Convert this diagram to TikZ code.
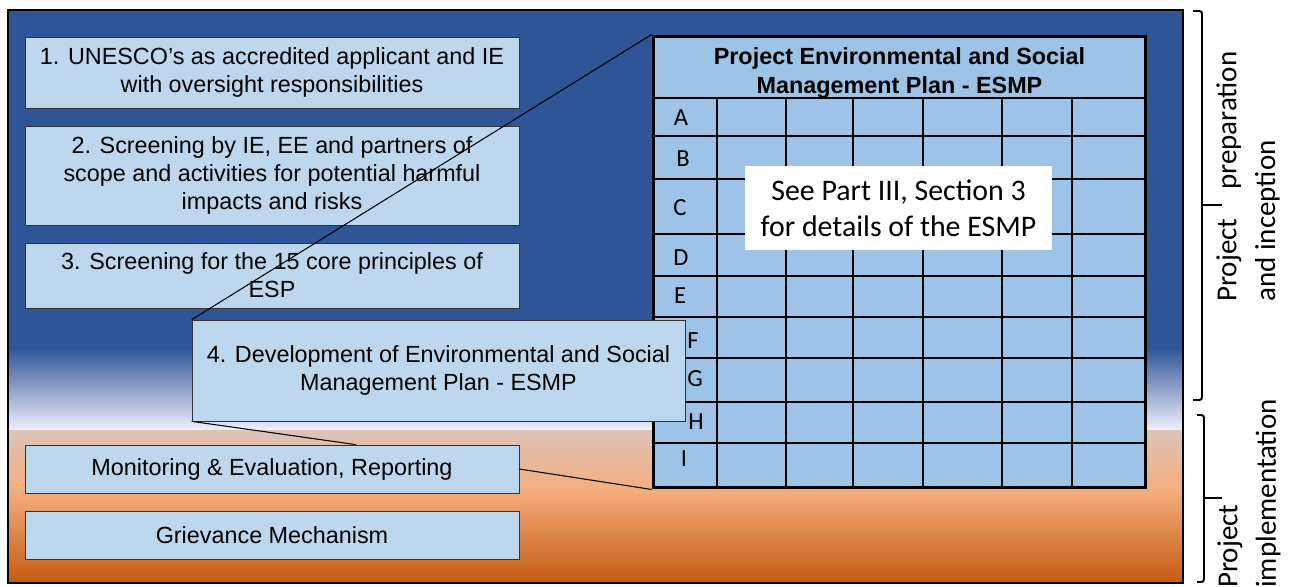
\documentclass[tikz,border=0pt]{standalone}
\usepackage{fontspec}
\setmainfont{Liberation Sans}
\newfontfamily\calibri{Carlito}
\usepackage{tikz}
\usetikzlibrary{calc}

\definecolor{bgblue}{RGB}{47,85,151}
\definecolor{bgpink}{RGB}{222,196,184}
\definecolor{bgpeach}{RGB}{244,174,126}
\definecolor{bgrust}{RGB}{197,90,17}
\definecolor{boxblue}{RGB}{189,215,238}
\definecolor{tableblue}{RGB}{157,195,230}

\begin{document}
\begin{tikzpicture}[
    x=0.02cm, y=-0.02cm,
    stage/.style={rectangle, draw=black!80, fill=boxblue, minimum width=9.88cm, align=center, inner sep=2pt, font=\fontsize{13.3}{16}\selectfont},
    cell/.style={inner sep=0pt, font=\calibri\fontsize{14}{16}\selectfont},
    link/.style={line width=0.6pt},
    brace/.style={line width=1.1pt, rounded corners=1.5pt},
    phase/.style={rotate=90, anchor=west, align=left, inner sep=0pt, font=\calibri\fontsize{16.5}{22}\selectfont}
]
\useasboundingbox (0,0) rectangle (1290,587);

% background: blue fading to white, then orange
\fill[bgblue] (8,10) rectangle (1183,348);
\shade[top color=bgblue, bottom color=white!94!blue] (8,348) rectangle (1183,430);
\shade[top color=bgpink, bottom color=bgpeach] (8,430) rectangle (1183,490);
\shade[top color=bgpeach, bottom color=bgrust] (8,490) rectangle (1183,583);
\draw[line width=1.1pt] (8,10) rectangle (1183,583);

% phases on the right
\draw[brace] (1193,11) -- (1202,11) -- (1202,400) -- (1193,400);
\draw[brace] (1202,205) -- (1222,205);
\draw[brace] (1197,415) -- (1204,415) -- (1204,582) -- (1197,582);
\draw[brace] (1204,498) -- (1222,498);
\node[phase] (prep) at (1248,302) {\makebox[5cm][l]{Project\hfill preparation}\\and inception};
\node[phase] (impl) at (1249,588) {Project\\implementation};

% steps
\node[stage, minimum height=1.42cm] (step1) at (272,72.5) {1. UNESCO's as accredited applicant and IE\\with oversight responsibilities};
\node[stage, minimum height=1.98cm] (step2) at (272,175.5) {2. Screening by IE, EE and partners of\\scope and activities for potential harmful\\impacts and risks};
\node[stage, minimum height=1.3cm] (step3) at (272,275.5) {3. Screening for the 15 core principles of\\ESP};
\node[stage, minimum height=0.96cm] (monitor) at (272,469) {Monitoring \& Evaluation, Reporting};
\node[stage, minimum height=0.96cm] (grievance) at (272,535) {Grievance Mechanism};

% ESMP table
\node[draw, line width=1.7pt, fill=tableblue, minimum width=9.86cm, minimum height=9.04cm] (esmp) at (899.5,262) {};
\node[align=center, font=\bfseries\fontsize{13.3}{16}\selectfont] (esmphead) at (899.5,73) {Project Environmental and Social\\Management Plan - ESMP};
\foreach \y in {136,179,234,276,317,358,402,443}
    \draw[line width=0.8pt] (653,\y) -- (1146,\y);
\foreach \x in {717,786,853,923,1002,1072}
    \draw[line width=0.8pt] (\x,98) -- (\x,488);
\draw[line width=1.7pt] (653,98) -- (1146,98);
\foreach \l/\x/\y in {A/681/118, B/683/159, C/680/208, D/681/258, E/680/296, F/693/341, G/695/379, H/696/422, I/684/459}
    \node[cell] (row\l) at (\x,\y) {\l};
\node[fill=white, minimum width=6.14cm, minimum height=1.68cm, align=center, font=\calibri\fontsize{17}{20.5}\selectfont] (note) at (898.5,208) {See Part III, Section 3\\for details of the ESMP};

\node[stage, minimum width=9.86cm, minimum height=2.02cm] (step4) at (438.5,370.5) {4. Development of Environmental and Social\\Management Plan - ESMP};

\draw[link] (esmp.north west) -- (step4.north west);
\draw[link] (step4.south west) -- ($(monitor.north west)!0.67!(monitor.north east)$);
\draw[link] (monitor.east) -- (esmp.south west);

\end{tikzpicture}
\end{document}
